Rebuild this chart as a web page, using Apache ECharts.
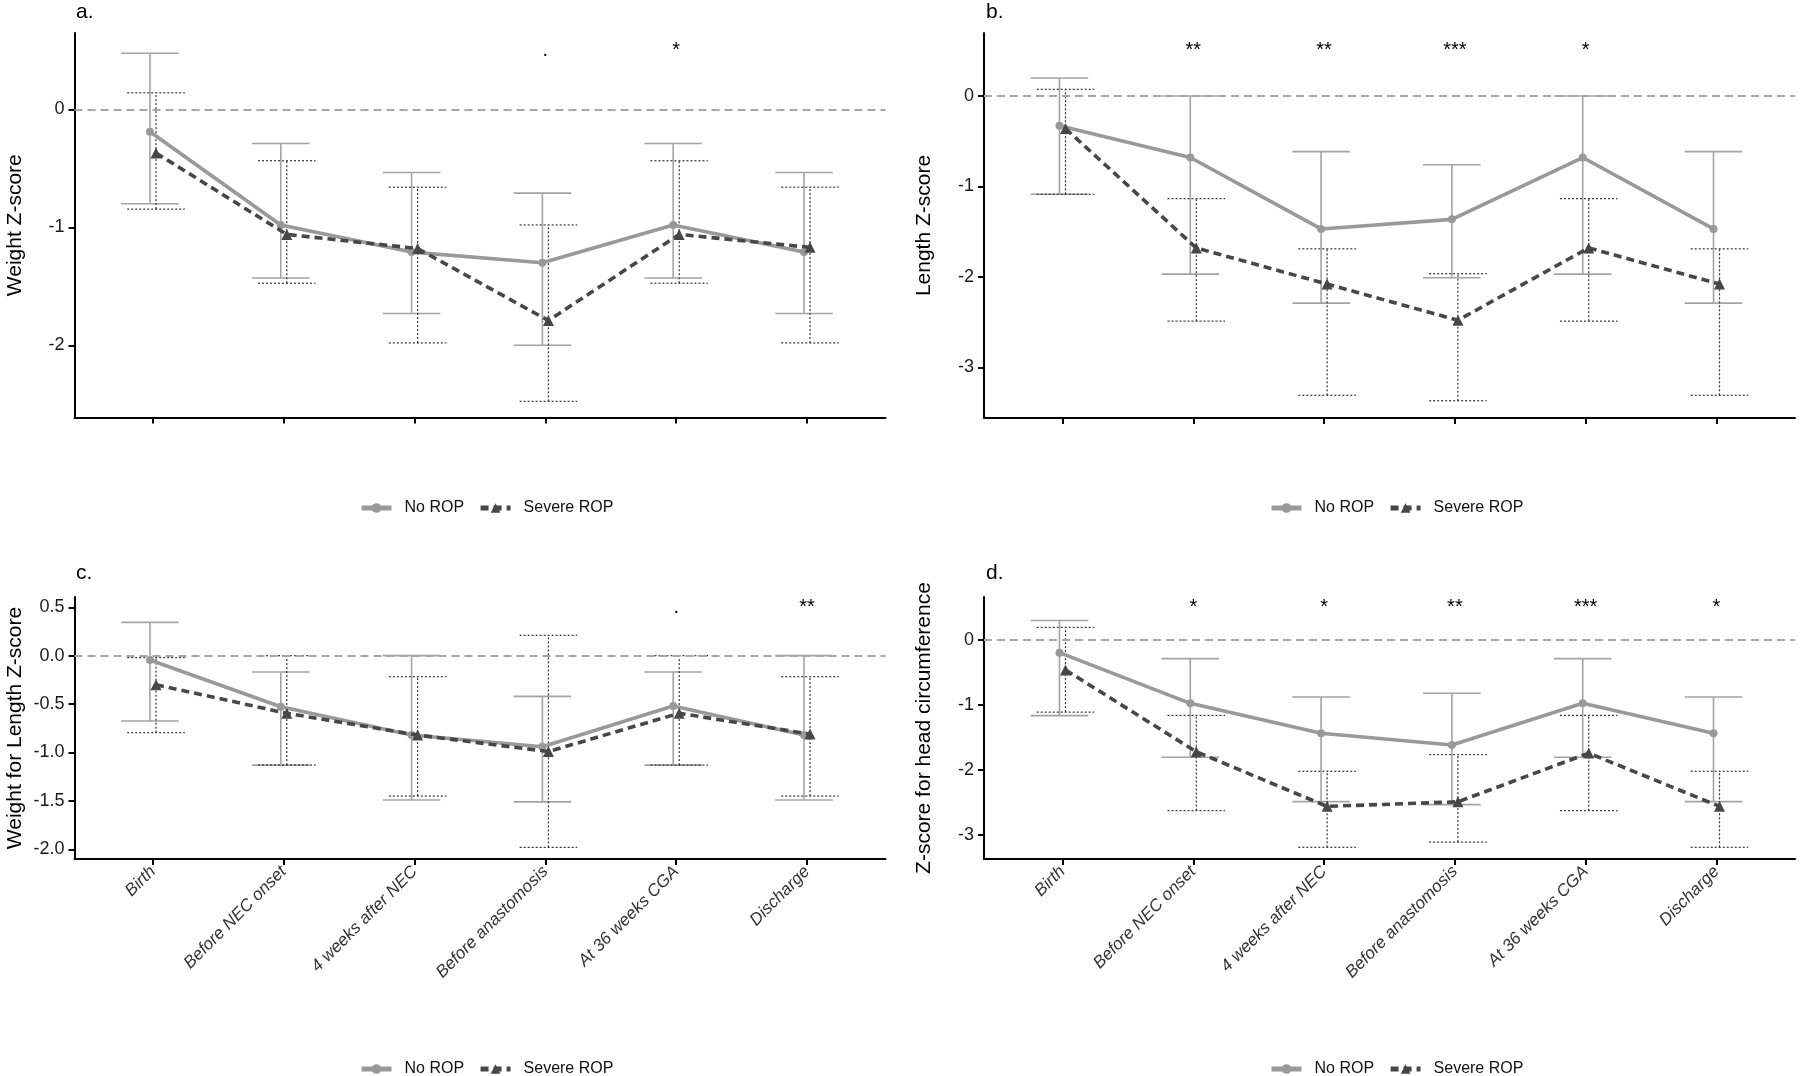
<!DOCTYPE html>
<html><head><meta charset="utf-8">
<script src="https://cdn.jsdelivr.net/npm/echarts@6/dist/echarts.min.js"></script>
<style>html,body{margin:0;padding:0;background:#fff}#c{width:1800px;height:1076px}</style>
</head><body><div id="c"></div>
<script>
// ---------- DATA ----------
const categories = ['Birth','Before NEC onset','4 weeks after NEC','Before anastomosis','At 36 weeks CGA','Discharge'];

// a. Weight Z-score
const aNoMean  = [-0.19, -0.98, -1.21, -1.30, -0.98, -1.21];
const aNoLow   = [-0.80, -1.43, -1.73, -2.00, -1.43, -1.73];
const aNoHigh  = [0.475, -0.29, -0.535, -0.71, -0.29, -0.535];
const aSevMean = [-0.37, -1.06, -1.18, -1.79, -1.06, -1.17];
const aSevLow  = [-0.846, -1.474, -1.98, -2.475, -1.474, -1.98];
const aSevHigh = [0.14, -0.436, -0.66, -0.98, -0.436, -0.66];
const aSig     = ['', '', '', '.', '*', ''];
const aTicks   = [-2, -1, 0];

// b. Length Z-score
const bNoMean  = [-0.33, -0.68, -1.47, -1.364, -0.68, -1.47];
const bNoLow   = [-1.087, -1.97, -2.29, -2.01, -1.97, -2.29];
const bNoHigh  = [0.20, 0.0, -0.615, -0.76, 0.0, -0.615];
const bSevMean = [-0.36, -1.68, -2.08, -2.48, -1.68, -2.08];
const bSevLow  = [-1.087, -2.49, -3.31, -3.37, -2.49, -3.31];
const bSevHigh = [0.074, -1.135, -1.69, -1.965, -1.135, -1.69];
const bSig     = ['', '**', '**', '***', '*', ''];
const bTicks   = [-3, -2, -1, 0];

// c. Weight for Length Z-score
const cNoMean  = [-0.045, -0.527, -0.82, -0.94, -0.52, -0.82];
const cNoLow   = [-0.675, -1.13, -1.49, -1.51, -1.13, -1.49];
const cNoHigh  = [0.344, -0.169, 0.0, -0.42, -0.169, 0.0];
const cSevMean = [-0.30, -0.595, -0.82, -0.99, -0.595, -0.81];
const cSevLow  = [-0.795, -1.13, -1.45, -1.98, -1.13, -1.45];
const cSevHigh = [-0.02, 0.0, -0.217, 0.21, 0.0, -0.217];
const cSig     = ['', '', '', '', '.', '**'];
const cTicks   = [-2.0, -1.5, -1.0, -0.5, 0.0, 0.5];

// d. Z-score for head circumference
const dNoMean  = [-0.195, -0.974, -1.436, -1.615, -0.974, -1.436];
const dNoLow   = [-1.164, -1.805, -2.487, -2.533, -1.805, -2.487];
const dNoHigh  = [0.30, -0.287, -0.877, -0.82, -0.287, -0.877];
const dSevMean = [-0.46, -1.72, -2.56, -2.49, -1.74, -2.56];
const dSevLow  = [-1.11, -2.626, -3.19, -3.11, -2.626, -3.19];
const dSevHigh = [0.195, -1.16, -2.02, -1.764, -1.16, -2.02];
const dSig     = ['', '*', '*', '**', '***', '*'];
const dTicks   = [-3, -2, -1, 0];

const sigLevel = 0.5;

// ---------- LAYOUT / STYLE ----------
const NARROW = "'Liberation Sans Narrow','Arial Narrow','Liberation Sans',sans-serif";
const SANS = "'Liberation Sans',Arial,sans-serif";
const DODGE = 0.023, CAP = 0.22;
const COL_NO = '#999999', COL_SEV = '#474747';

const panels = [
  {label:'a.', yName:'Weight Z-score', no:[aNoMean,aNoLow,aNoHigh], sev:[aSevMean,aSevLow,aSevHigh], sig:aSig, ticks:aTicks, dec:0,
   yMin:-2.612, yMax:0.647, grid:{left:74.5, top:33, width:811, height:384.5}, showX:false, lab:[76,2]},
  {label:'b.', yName:'Length Z-score', no:[bNoMean,bNoLow,bNoHigh], sev:[bSevMean,bSevLow,bSevHigh], sig:bSig, ticks:bTicks, dec:0,
   yMin:-3.561, yMax:0.697, grid:{left:984, top:33, width:811, height:385}, showX:false, lab:[986,2]},
  {label:'c.', yName:'Weight for Length Z-score', no:[cNoMean,cNoLow,cNoHigh], sev:[cSevMean,cSevLow,cSevHigh], sig:cSig, ticks:cTicks, dec:1,
   yMin:-2.10, yMax:0.606, grid:{left:74.5, top:597, width:811, height:262}, showX:true, lab:[76,563]},
  {label:'d.', yName:'Z-score for head circumference', no:[dNoMean,dNoLow,dNoHigh], sev:[dSevMean,dSevLow,dSevHigh], sig:dSig, ticks:dTicks, dec:0,
   yMin:-3.37, yMax:0.662, grid:{left:984, top:597, width:811, height:262}, showX:true, lab:[986,563]}
];

function errRenderer(style){
  return function(params, api){
    const x = api.value(0), lo = api.value(1), hi = api.value(2);
    const pLo = api.coord([x, lo]), pHi = api.coord([x, hi]);
    const l = api.coord([x - CAP, hi])[0], r = api.coord([x + CAP, hi])[0];
    return {type:'group', children:[
      {type:'line', shape:{x1:pLo[0], y1:pLo[1], x2:pHi[0], y2:pHi[1]}, style:style},
      {type:'line', shape:{x1:l, y1:pHi[1], x2:r, y2:pHi[1]}, style:style},
      {type:'line', shape:{x1:l, y1:pLo[1], x2:r, y2:pLo[1]}, style:style}
    ]};
  };
}

const grids = [], xAxes = [], yAxes = [], series = [], graphics = [];
panels.forEach((p, k) => {
  grids.push(Object.assign({containLabel:false}, p.grid));
  xAxes.push({
    type:'value', gridIndex:k, min:-0.6, max:5.6,
    axisLine:{show:true, onZero:false, lineStyle:{color:'#000', width:2}},
    axisTick:{show:true, length:6, lineStyle:{color:'#000', width:2}, customValues:[0,1,2,3,4,5]},
    axisLabel:{show:p.showX, customValues:[0,1,2,3,4,5], rotate:45, margin:10,
      fontSize:17, fontStyle:'italic', fontFamily:SANS, color:'#333',
      formatter: v => categories[Math.round(v)]},
    splitLine:{show:false}
  });
  yAxes.push({
    type:'value', gridIndex:k, min:p.yMin, max:p.yMax,
    name:p.yName, nameLocation:'middle', nameGap:49, nameRotate:90,
    nameTextStyle:{fontSize:21, fontFamily:SANS, color:'#000'},
    axisLine:{show:true, onZero:false, lineStyle:{color:'#000', width:2}},
    axisTick:{show:true, length:6, lineStyle:{color:'#000', width:2}, customValues:p.ticks},
    axisLabel:{customValues:p.ticks, margin:10, fontSize:18, fontFamily:NARROW, color:'#1a1a1a',
      formatter: v => v.toFixed(p.dec)},
    splitLine:{show:false}
  });
  const [noM, noL, noH] = p.no, [sevM, sevL, sevH] = p.sev;
  series.push({type:'custom', name:'noBar'+k, xAxisIndex:k, yAxisIndex:k, z:2, silent:true,
    renderItem: errRenderer({stroke:'#a3a3a3', lineWidth:1.6, fill:null}),
    data: categories.map((c,i) => [i - DODGE, noL[i], noH[i]])});
  series.push({type:'custom', name:'sevBar'+k, xAxisIndex:k, yAxisIndex:k, z:3, silent:true,
    renderItem: errRenderer({stroke:'#333333', lineWidth:1.2, lineDash:[2,2], fill:null}),
    data: categories.map((c,i) => [i + DODGE, sevL[i], sevH[i]])});
  series.push({type:'line', name:'No ROP', xAxisIndex:k, yAxisIndex:k, z:4,
    symbol:'circle', symbolSize:8, showSymbol:true,
    lineStyle:{color:COL_NO, width:3.6}, itemStyle:{color:COL_NO},
    data: categories.map((c,i) => [i - DODGE, noM[i]]),
    markLine:{silent:true, symbol:['none','none'], label:{show:false},
      lineStyle:{color:'#a6a6a6', width:2, type:[8,5]}, data:[{yAxis:0}], animation:false}
  });
  series.push({type:'line', name:'Severe ROP', xAxisIndex:k, yAxisIndex:k, z:5,
    symbol:'triangle', symbolSize:11, showSymbol:true,
    lineStyle:{color:COL_SEV, width:3.6, type:[8,5]}, itemStyle:{color:COL_SEV},
    data: categories.map((c,i) => [i + DODGE, sevM[i]])});
  const sigIdx = p.sig.map((s,i) => s ? i : -1).filter(i => i >= 0);
  series.push({type:'custom', name:'sig'+k, xAxisIndex:k, yAxisIndex:k, z:6, silent:true, clip:false,
    renderItem: (params, api) => {
      const pt = api.coord([api.value(0), api.value(1)]);
      return {type:'text', x:pt[0], y:pt[1], style:{text:p.sig[sigIdx[params.dataIndex]], fontSize:20,
        fontFamily:NARROW, fill:'#000', align:'center', verticalAlign:'middle'}};
    },
    data: sigIdx.map(i => [i, sigLevel])});
  graphics.push({type:'text', left:p.lab[0], top:p.lab[1], style:{text:p.label, fontSize:21, fontFamily:NARROW, fill:'#000'}});
});

const legendBase = {data:['No ROP','Severe ROP'], orient:'horizontal', itemWidth:30, itemHeight:12, itemGap:14,
  lineStyle:{width:5},
  textStyle:{fontSize:16, fontFamily:SANS, color:'#111', padding:[0,0,0,8]}};
const legends = [[354,495],[1264,495],[354,1056],[1264,1056]].map(([l,t]) => Object.assign({left:l, top:t}, legendBase));

const chart = echarts.init(document.getElementById('c'), null, {renderer:'canvas'});
chart.setOption({
  animation:false,
  backgroundColor:'#fff',
  textStyle:{fontFamily:SANS},
  grid:grids, xAxis:xAxes, yAxis:yAxes, series:series, legend:legends, graphic:graphics
});
</script></body></html>
